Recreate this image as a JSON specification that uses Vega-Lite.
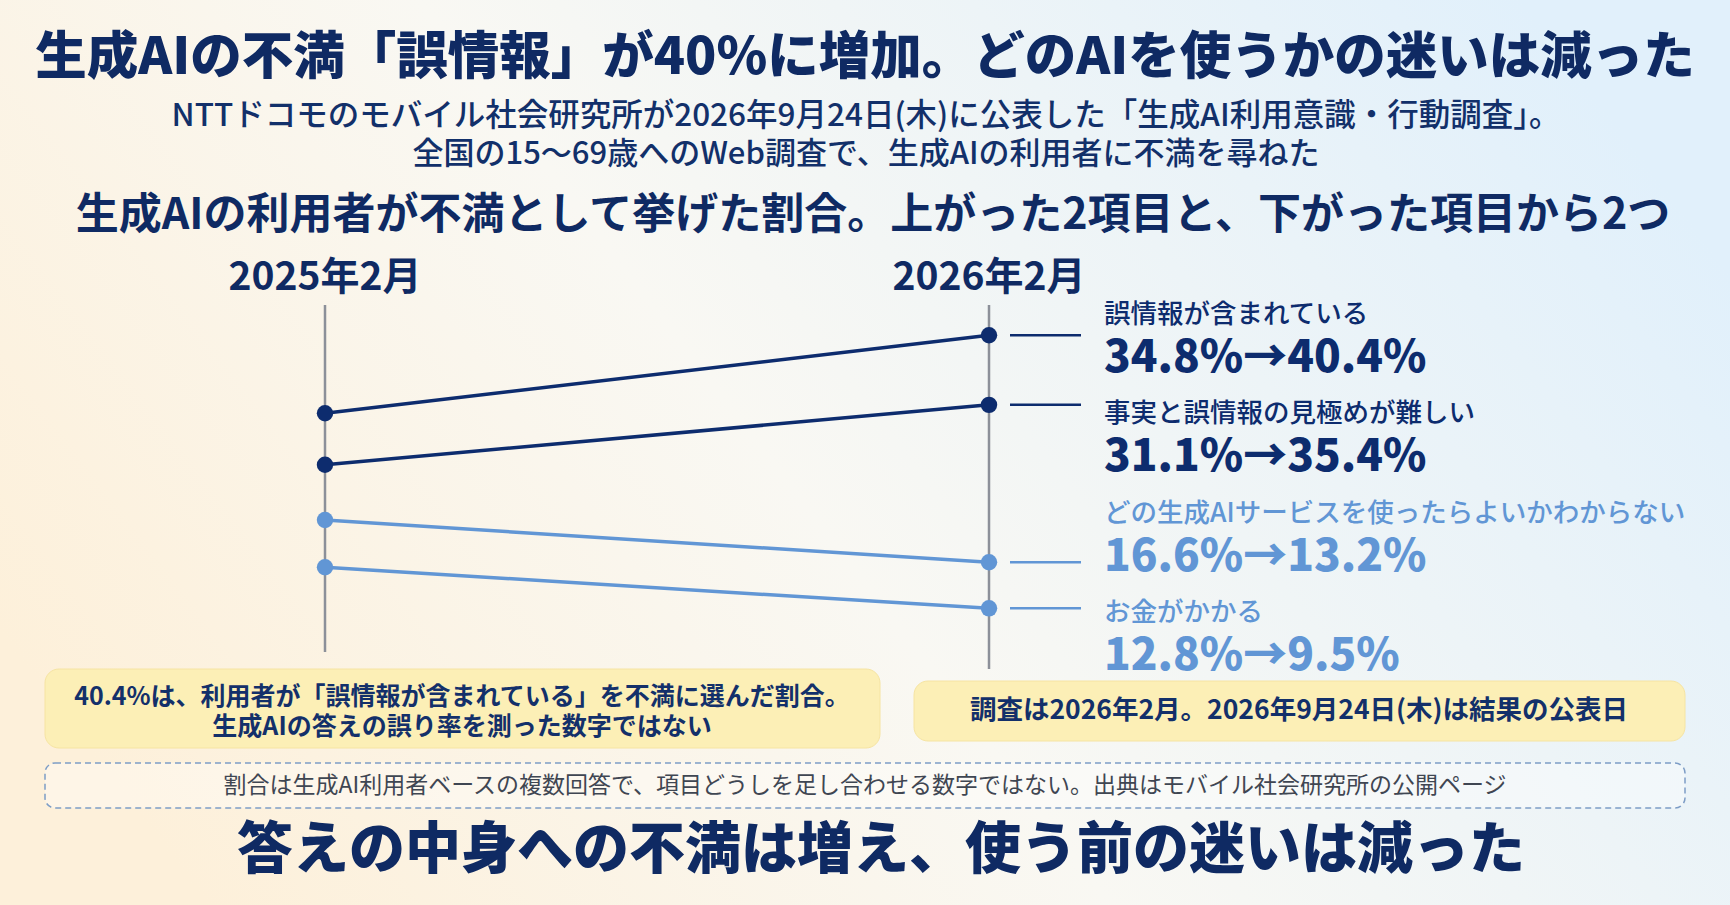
{
  "$schema": "https://vega.github.io/schema/vega-lite/v6.json",
  "width": 1730,
  "height": 905,
  "autosize": {"type": "fit", "contains": "padding"},
  "padding": 0,
  "background": "#f8f7f2",
  "view": {
    "stroke": null,
    "fill": {
      "gradient": "linear", "x1": 0, "y1": 0.7, "x2": 1, "y2": 0.3,
      "stops": [
        {"offset": 0, "color": "#fdf0da"},
        {"offset": 0.45, "color": "#f9f8f3"},
        {"offset": 1, "color": "#e1f0fb"}
      ]
    }
  },
  "config": {"text": {"font": "Noto Sans CJK JP"}},
  "data": {
    "values": [
      {"item": "誤情報が含まれている", "period": "2025年2月", "pct": 34.8, "trend": "上昇"},
      {"item": "誤情報が含まれている", "period": "2026年2月", "pct": 40.4, "trend": "上昇"},
      {"item": "事実と誤情報の見極めが難しい", "period": "2025年2月", "pct": 31.1, "trend": "上昇"},
      {"item": "事実と誤情報の見極めが難しい", "period": "2026年2月", "pct": 35.4, "trend": "上昇"},
      {"item": "どの生成AIサービスを使ったらよいかわからない", "period": "2025年2月", "pct": 16.6, "trend": "低下"},
      {"item": "どの生成AIサービスを使ったらよいかわからない", "period": "2026年2月", "pct": 13.2, "trend": "低下"},
      {"item": "お金がかかる", "period": "2025年2月", "pct": 12.8, "trend": "低下"},
      {"item": "お金がかかる", "period": "2026年2月", "pct": 9.5, "trend": "低下"}
    ]
  },
  "encoding": {
    "x": {
      "field": "period", "type": "ordinal",
      "scale": {"type": "point", "domain": ["2025年2月", "2026年2月"], "range": [325, 989], "padding": 0},
      "axis": null
    },
    "y": {
      "field": "pct", "type": "quantitative",
      "scale": {"domain": [8, 17, 30, 42], "range": [627, 515, 480, 313], "nice": false, "zero": false},
      "axis": null
    },
    "color": {
      "field": "trend", "type": "nominal",
      "scale": {"domain": ["上昇", "低下"], "range": ["#0d2c6e", "#6196d5"]},
      "legend": null
    }
  },
  "layer": [
    {
      "data": {"values": [{}]},
      "mark": {"type": "rect", "x": 45, "x2": 880, "y": 669, "y2": 748, "cornerRadius": 14, "fill": "#fcefb6", "stroke": "#f6e4a2", "strokeWidth": 1},
      "encoding": {"x": null, "y": null, "color": null}
    },
    {
      "data": {"values": [{}]},
      "mark": {"type": "rect", "x": 914, "x2": 1685, "y": 681, "y2": 741, "cornerRadius": 14, "fill": "#fcefb6", "stroke": "#f6e4a2", "strokeWidth": 1},
      "encoding": {"x": null, "y": null, "color": null}
    },
    {
      "data": {"values": [{}]},
      "mark": {"type": "rect", "x": 45, "x2": 1685, "y": 763, "y2": 808, "cornerRadius": 10, "fill": "#ffffff", "fillOpacity": 0.35, "stroke": "#7d9dc6", "strokeWidth": 1.5, "strokeDash": [6, 4]},
      "encoding": {"x": null, "y": null, "color": null}
    },
    {
      "transform": [
        {"aggregate": [{"op": "count", "as": "n"}], "groupby": ["period"]},
        {"filter": "datum.period == '2025年2月'"}
      ],
      "mark": {"type": "rule", "strokeWidth": 2.5},
      "encoding": {
        "y": {"value": 305},
        "y2": {"value": 652},
        "color": {"value": "#8c9099"}
      }
    },
    {
      "transform": [
        {"aggregate": [{"op": "count", "as": "n"}], "groupby": ["period"]},
        {"filter": "datum.period == '2026年2月'"}
      ],
      "mark": {"type": "rule", "strokeWidth": 2.5},
      "encoding": {
        "y": {"value": 305},
        "y2": {"value": 669},
        "color": {"value": "#8c9099"}
      }
    },
    {
      "layer": [
        {
          "mark": {"type": "line", "strokeWidth": 3.5},
          "encoding": {"detail": {"field": "item"}}
        },
        {
          "mark": {"type": "circle", "size": 270, "opacity": 1}
        },
        {
          "transform": [{"filter": "datum.period == '2026年2月'"}],
          "mark": {"type": "rule", "strokeWidth": 2.5, "xOffset": 21, "x2Offset": 92},
          "encoding": {"x2": {"field": "period"}}
        }
      ]
    },
    {
      "transform": [{"aggregate": [{"op": "count", "as": "n"}], "groupby": ["period"]}],
      "mark": {"type": "text", "fontSize": 39, "fontWeight": "bold", "baseline": "middle"},
      "encoding": {
        "y": {"value": 278},
        "text": {"field": "period"},
        "color": {"value": "#0f2a63"}
      }
    },
    {
      "transform": [{"filter": "datum.period == '2026年2月'"}],
      "mark": {"type": "text", "fontSize": 26.5, "fontWeight": 500, "align": "left", "baseline": "middle", "dx": 115},
      "encoding": {
        "text": {"field": "item"},
        "y": {
          "field": "item", "type": "nominal", "axis": null,
          "sort": ["誤情報が含まれている", "事実と誤情報の見極めが難しい", "どの生成AIサービスを使ったらよいかわからない", "お金がかかる"],
          "scale": {"type": "point", "range": [315, 613], "padding": 0}
        }
      }
    },
    {
      "transform": [
        {"pivot": "period", "value": "pct", "groupby": ["item", "trend"]},
        {"calculate": "format(datum['2025年2月'], '.1f') + '%→' + format(datum['2026年2月'], '.1f') + '%'", "as": "change"}
      ],
      "mark": {"type": "text", "fontSize": 44, "fontWeight": 900, "align": "left", "baseline": "middle", "dx": 115, "dy": 44},
      "encoding": {
        "x": {"datum": "2026年2月"},
        "text": {"field": "change"},
        "y": {
          "field": "item", "type": "nominal", "axis": null,
          "sort": ["誤情報が含まれている", "事実と誤情報の見極めが難しい", "どの生成AIサービスを使ったらよいかわからない", "お金がかかる"],
          "scale": {"type": "point", "range": [315, 613], "padding": 0}
        }
      }
    },
    {
      "data": {"values": [{"t": "生成AIの不満「誤情報」が40%に増加。どのAIを使うかの迷いは減った"}]},
      "mark": {"type": "text", "x": 865, "y": 59, "fontSize": 51.5, "fontWeight": 900, "baseline": "middle", "color": "#0f2a63"},
      "encoding": {"x": null, "y": null, "color": null, "text": {"field": "t"}}
    },
    {
      "data": {"values": [{"t": "NTTドコモのモバイル社会研究所が2026年9月24日(木)に公表した「生成AI利用意識・行動調査」。"}]},
      "mark": {"type": "text", "x": 866, "y": 117, "fontSize": 31.5, "fontWeight": 500, "baseline": "middle", "color": "#12306a"},
      "encoding": {"x": null, "y": null, "color": null, "text": {"field": "t"}}
    },
    {
      "data": {"values": [{"t": "全国の15〜69歳へのWeb調査で、生成AIの利用者に不満を尋ねた"}]},
      "mark": {"type": "text", "x": 866, "y": 155, "fontSize": 31, "fontWeight": 500, "baseline": "middle", "color": "#12306a"},
      "encoding": {"x": null, "y": null, "color": null, "text": {"field": "t"}}
    },
    {
      "data": {"values": [{"t": "生成AIの利用者が不満として挙げた割合。上がった2項目と、下がった項目から2つ"}]},
      "mark": {"type": "text", "x": 873, "y": 216, "fontSize": 43, "fontWeight": "bold", "baseline": "middle", "color": "#0f2a63"},
      "encoding": {"x": null, "y": null, "color": null, "text": {"field": "t"}}
    },
    {
      "data": {"values": [{"t": ["40.4%は、利用者が「誤情報が含まれている」を不満に選んだ割合。", "生成AIの答えの誤り率を測った数字ではない"]}]},
      "mark": {"type": "text", "x": 462, "y": 697, "fontSize": 25, "fontWeight": "bold", "baseline": "middle", "lineHeight": 30, "color": "#13306a"},
      "encoding": {"x": null, "y": null, "color": null, "text": {"field": "t"}}
    },
    {
      "data": {"values": [{"t": "調査は2026年2月。2026年9月24日(木)は結果の公表日"}]},
      "mark": {"type": "text", "x": 1299, "y": 711, "fontSize": 26.5, "fontWeight": "bold", "baseline": "middle", "color": "#13306a"},
      "encoding": {"x": null, "y": null, "color": null, "text": {"field": "t"}}
    },
    {
      "data": {"values": [{"t": "割合は生成AI利用者ベースの複数回答で、項目どうしを足し合わせる数字ではない。出典はモバイル社会研究所の公開ページ"}]},
      "mark": {"type": "text", "x": 865, "y": 786, "fontSize": 23, "baseline": "middle", "color": "#3f4652"},
      "encoding": {"x": null, "y": null, "color": null, "text": {"field": "t"}}
    },
    {
      "data": {"values": [{"t": "答えの中身への不満は増え、使う前の迷いは減った"}]},
      "mark": {"type": "text", "x": 881, "y": 851, "fontSize": 56, "fontWeight": 900, "baseline": "middle", "color": "#0f2a63"},
      "encoding": {"x": null, "y": null, "color": null, "text": {"field": "t"}}
    }
  ],
  "resolve": {"scale": {"y": "independent"}}
}
